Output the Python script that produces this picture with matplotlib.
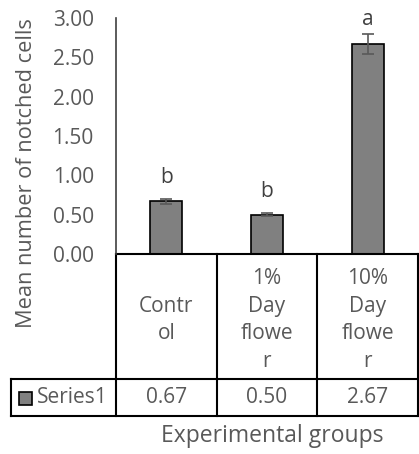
import numpy as np
import matplotlib.pyplot as plt
from matplotlib.patches import Rectangle
from matplotlib.transforms import blended_transform_factory

plt.rcParams["font.family"] = ["Open Sans", "DejaVu Sans"]

# data
groups   = ["Contr\nol", "1%\nDay\nflowe\nr", "10%\nDay\nflowe\nr"]
means    = [0.67, 0.50, 2.67]
errors   = [0.03, 0.02, 0.13]
letters  = ["b", "b", "a"]
letter_y = [0.90, 0.72, 2.91]
series   = "Series1"
yticks   = [0.0, 0.5, 1.0, 1.5, 2.0, 2.5, 3.0]

W, H = 419, 454
txt = "#595959"
fs = 15

fig = plt.figure(figsize=(W/100, H/100), dpi=100)
ax = fig.add_axes([116/W, 1 - 254/H, (418 - 116)/W, (254 - 18)/H])

x = np.arange(len(means))
ax.bar(x, means, width=0.32, color="#808080", edgecolor="black", lw=1.2, zorder=2)
ax.errorbar(x, means, yerr=errors, fmt="none", ecolor="#595959", elinewidth=1.2,
            capsize=4, capthick=1.2, zorder=3)
for xi, l, ly in zip(x, letters, letter_y):
    ax.text(xi, ly, l, ha="center", va="baseline", fontsize=fs, color="#404040")

ax.set_xlim(-0.5, len(means) - 0.5)
ax.set_ylim(0, 3)
ax.set_yticks(yticks)
ax.set_yticklabels([f"{v:.2f}" for v in yticks], fontsize=fs, color=txt)
ax.tick_params(axis="y", length=0, pad=16)
ax.set_xticks([])
for s in ["top", "right", "bottom"]:
    ax.spines[s].set_visible(False)
ax.spines["left"].set_color("#404040")
ax.spines["left"].set_linewidth(1.2)

fig.text(27/W, 1 - 173/H, "Mean number of notched cells", rotation=90,
         ha="center", va="center", fontsize=15.7, color=txt)
fig.text(272/W, 1 - 436/H, "Experimental groups", ha="center", va="center",
         fontsize=16.5, color=txt)

# data table under the axis
tr = blended_transform_factory(ax.transData, fig.transFigure)
y_top, y_mid, y_bot = 1 - 254/H, 1 - 379/H, 1 - 416/H
lk = dict(color="black", lw=1.5, clip_on=False)
ax.plot([-0.5, 2.5], [y_top, y_top], transform=tr, **lk)
fig.add_artist(plt.Line2D([11/W, 418/W], [y_mid, y_mid], **lk))
fig.add_artist(plt.Line2D([11/W, 418/W], [y_bot, y_bot], **lk))
fig.add_artist(plt.Line2D([11/W, 11/W], [y_mid, y_bot], **lk))
for b in np.arange(len(means) + 1) - 0.5:
    ax.plot([b, b], [y_top, y_bot], transform=tr, **lk)

for xi, g, v in zip(x, groups, means):
    ax.text(xi, 1 - 320/H, g, transform=tr, ha="center", va="center",
            fontsize=fs, color=txt, linespacing=1.4)
    ax.text(xi, (y_mid + y_bot) / 2, f"{v:.2f}", transform=tr, ha="center",
            va="center", fontsize=fs, color=txt)

fig.add_artist(Rectangle((19/W, 1 - 405/H), 13/W, 13/H, facecolor="#808080",
                         edgecolor="black", lw=1.2))
fig.text(37/W, (y_mid + y_bot) / 2, series, ha="left", va="center",
         fontsize=fs, color=txt)

fig.savefig("out.png", dpi=100)
